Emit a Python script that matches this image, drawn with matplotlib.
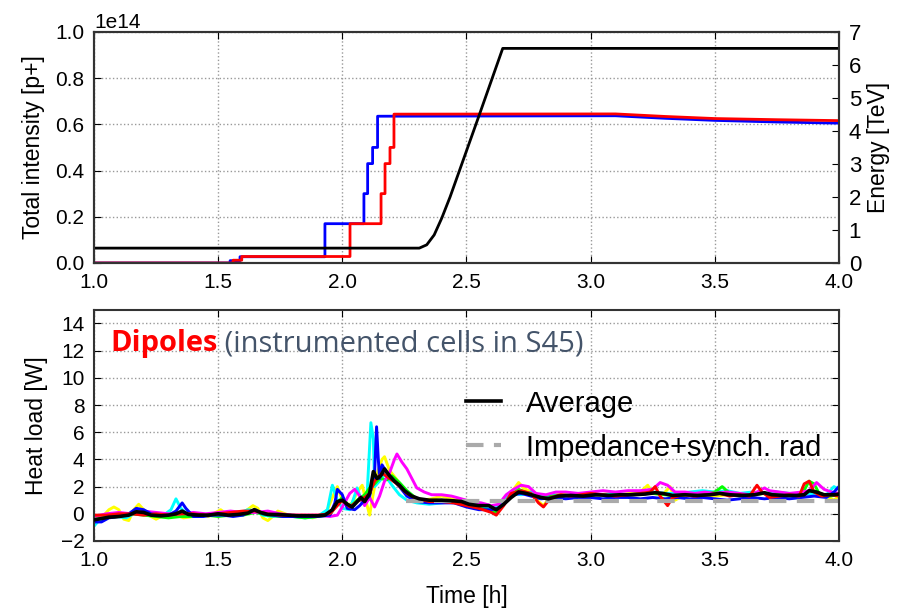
import numpy as np
import matplotlib
matplotlib.use("Agg")
import matplotlib.pyplot as plt

plt.rcParams["font.family"] = ["Liberation Sans", "DejaVu Sans"]

# ---- top panel: beam intensity (p+) and energy (TeV) ----
blue_t = [1.00, 1.548, 1.548, 1.588, 1.588, 1.930, 1.930, 2.087, 2.087, 2.102, 2.102,
          2.122, 2.122, 2.142, 2.142, 3.10, 3.30, 3.50, 3.75, 4.00]
blue_int = [0.0, 0.0, 0.010, 0.010, 0.027, 0.027, 0.170, 0.170, 0.300, 0.300, 0.430,
            0.430, 0.500, 0.500, 0.635, 0.637, 0.626, 0.617, 0.610, 0.605]
red_t = [1.00, 1.560, 1.560, 1.595, 1.595, 2.031, 2.031, 2.156, 2.156, 2.172, 2.172,
         2.192, 2.192, 2.208, 2.208, 3.10, 3.30, 3.50, 3.75, 4.00]
red_int = [0.0, 0.0, 0.012, 0.012, 0.028, 0.028, 0.170, 0.170, 0.300, 0.300, 0.430,
           0.430, 0.500, 0.500, 0.644, 0.645, 0.634, 0.625, 0.620, 0.616]
energy_t = [1.00, 2.31, 2.34, 2.37, 2.40, 2.434, 2.55, 2.646, 4.00]
energy = [0.45, 0.45, 0.55, 0.85, 1.35, 2.00, 4.45, 6.50, 6.50]

# ---- bottom panel: heat load per cell [W], (time, value) ----
yellow = [(1.00, -0.4), (1.03, -0.3), (1.06, 0.3), (1.08, 0.5), (1.10, 0.3), (1.12, -0.4),
          (1.14, -0.5), (1.16, 0.3), (1.18, 0.7), (1.20, 0.3), (1.22, -0.1), (1.25, -0.4),
          (1.27, -0.2), (1.30, 0.1), (1.33, -0.1), (1.36, -0.3), (1.40, -0.2), (1.43, 0.0),
          (1.46, -0.2), (1.49, 0.1), (1.51, 0.3), (1.54, -0.1), (1.58, 0.0), (1.61, 0.2),
          (1.64, 0.6), (1.66, 0.4), (1.68, -0.3), (1.70, -0.5), (1.72, -0.2), (1.74, 0.2),
          (1.77, 0.0), (1.80, -0.2), (1.84, -0.1), (1.88, -0.3), (1.92, -0.1), (1.94, 0.3),
          (1.96, 1.2), (1.98, 2.0), (2.00, 1.0), (2.02, 0.6), (2.04, 0.8), (2.06, 1.6),
          (2.08, 2.1), (2.10, 0.6), (2.11, -0.1), (2.12, 1.0), (2.14, 3.0), (2.16, 4.0),
          (2.17, 4.2), (2.19, 3.2), (2.22, 2.5), (2.25, 1.6), (2.28, 1.2), (2.32, 1.0),
          (2.36, 1.1), (2.40, 1.3), (2.44, 1.1), (2.48, 0.9), (2.52, 0.7), (2.56, 0.6),
          (2.60, 0.3), (2.63, 0.4), (2.66, 1.2), (2.69, 1.8), (2.71, 2.3), (2.73, 1.9),
          (2.76, 1.6), (2.79, 0.9), (2.81, 0.6), (2.84, 1.3), (2.88, 1.5), (2.92, 1.3),
          (2.96, 1.4), (3.00, 1.3), (3.04, 1.4), (3.08, 1.5), (3.12, 1.4), (3.16, 1.5),
          (3.20, 1.6), (3.23, 2.1), (3.25, 1.5), (3.29, 1.4), (3.32, 2.0), (3.34, 1.0),
          (3.38, 1.4), (3.42, 1.5), (3.46, 1.4), (3.50, 1.3), (3.55, 1.4), (3.60, 1.3),
          (3.65, 1.4), (3.70, 1.5), (3.75, 1.3), (3.80, 1.4), (3.85, 1.5), (3.90, 1.6),
          (3.94, 1.4), (3.98, 1.0), (4.00, 1.3)]
cyan = [(1.00, -0.9), (1.02, -0.5), (1.05, -0.3), (1.09, -0.2), (1.13, -0.3), (1.17, 0.1),
        (1.20, 0.2), (1.24, 0.0), (1.28, -0.1), (1.31, 0.3), (1.33, 1.1), (1.35, 0.4),
        (1.38, -0.1), (1.42, -0.2), (1.46, -0.1), (1.50, 0.0), (1.55, -0.1), (1.59, 0.1),
        (1.62, 0.3), (1.65, 0.2), (1.68, -0.1), (1.72, -0.2), (1.76, -0.1), (1.80, -0.2),
        (1.85, -0.3), (1.90, -0.2), (1.94, 0.3), (1.96, 2.1), (1.98, 1.0), (2.00, 0.4),
        (2.03, 0.3), (2.06, 1.9), (2.08, 0.8), (2.10, 1.5), (2.115, 6.7), (2.125, 5.5),
        (2.13, 2.0), (2.15, 2.4), (2.17, 2.9), (2.20, 2.1), (2.23, 1.4), (2.26, 1.0),
        (2.30, 0.8), (2.35, 0.7), (2.40, 0.8), (2.45, 0.9), (2.50, 0.8), (2.55, 0.6),
        (2.60, 0.4), (2.63, 0.5), (2.66, 1.3), (2.69, 1.5), (2.72, 1.4), (2.76, 1.6),
        (2.80, 1.3), (2.85, 1.4), (2.90, 1.3), (2.95, 1.4), (3.00, 1.5), (3.05, 1.4),
        (3.10, 1.5), (3.15, 1.4), (3.20, 1.5), (3.25, 1.6), (3.30, 1.5), (3.35, 1.5),
        (3.40, 1.6), (3.45, 1.7), (3.50, 1.6), (3.55, 1.7), (3.60, 1.5), (3.65, 1.6),
        (3.70, 1.5), (3.75, 1.6), (3.80, 1.5), (3.85, 1.4), (3.90, 1.5), (3.95, 1.4),
        (3.98, 2.0), (4.00, 1.8)]
green = [(1.00, -0.4), (1.05, -0.3), (1.10, -0.2), (1.15, 0.0), (1.20, -0.1), (1.25, -0.2),
         (1.30, -0.3), (1.35, -0.2), (1.40, -0.2), (1.45, -0.1), (1.50, -0.2), (1.55, -0.1),
         (1.60, -0.1), (1.65, 0.1), (1.70, -0.1), (1.75, -0.2), (1.80, -0.2), (1.85, -0.3),
         (1.90, -0.2), (1.95, -0.1), (1.98, 0.8), (2.00, 1.2), (2.03, 0.5), (2.06, 1.0),
         (2.09, 1.4), (2.11, 1.9), (2.13, 2.2), (2.15, 2.6), (2.18, 2.5), (2.20, 2.8),
         (2.23, 2.3), (2.26, 1.7), (2.30, 1.1), (2.35, 0.9), (2.40, 1.0), (2.45, 0.9),
         (2.50, 0.6), (2.55, 0.4), (2.60, 0.2), (2.62, 0.1), (2.65, 0.7), (2.68, 1.4),
         (2.71, 1.8), (2.75, 1.5), (2.80, 1.2), (2.85, 1.3), (2.90, 1.4), (2.95, 1.3),
         (3.00, 1.4), (3.05, 1.4), (3.10, 1.3), (3.15, 1.4), (3.20, 1.5), (3.25, 1.5),
         (3.30, 1.4), (3.35, 1.3), (3.40, 1.4), (3.45, 1.4), (3.50, 1.6), (3.53, 2.0),
         (3.56, 1.5), (3.60, 1.3), (3.65, 1.4), (3.70, 1.5), (3.75, 1.4), (3.80, 1.3),
         (3.85, 1.4), (3.88, 2.4), (3.90, 2.2), (3.92, 1.5), (3.96, 1.3), (4.00, 1.4)]
magenta = [(1.00, -0.2), (1.05, 0.0), (1.10, 0.1), (1.15, 0.0), (1.20, 0.2), (1.25, 0.1),
           (1.30, 0.0), (1.35, 0.0), (1.40, 0.1), (1.45, 0.0), (1.50, 0.1), (1.55, 0.2),
           (1.60, 0.1), (1.65, 0.1), (1.70, 0.2), (1.75, 0.0), (1.80, -0.1), (1.85, -0.1),
           (1.90, -0.1), (1.95, -0.2), (1.98, -0.1), (2.00, 0.5), (2.03, 1.5), (2.05, 1.8),
           (2.07, 1.3), (2.09, 0.6), (2.11, 1.2), (2.13, 0.5), (2.15, 1.3), (2.17, 2.4),
           (2.19, 3.0), (2.21, 4.0), (2.22, 4.4), (2.24, 3.8), (2.26, 3.3), (2.28, 2.6),
           (2.30, 1.9), (2.33, 1.6), (2.36, 1.4), (2.40, 1.4), (2.44, 1.3), (2.48, 1.1),
           (2.52, 0.9), (2.56, 0.8), (2.60, 0.6), (2.63, 0.7), (2.66, 1.4), (2.69, 1.8),
           (2.72, 2.1), (2.75, 2.0), (2.78, 1.5), (2.82, 1.4), (2.86, 1.6), (2.90, 1.6),
           (2.95, 1.5), (3.00, 1.6), (3.05, 1.7), (3.10, 1.6), (3.15, 1.7), (3.20, 1.7),
           (3.25, 1.8), (3.28, 2.3), (3.31, 2.1), (3.34, 1.6), (3.38, 1.6), (3.42, 1.5),
           (3.46, 1.6), (3.50, 1.5), (3.55, 1.6), (3.60, 1.5), (3.64, 1.4), (3.67, 1.6),
           (3.70, 1.9), (3.72, 1.7), (3.76, 1.6), (3.80, 1.5), (3.85, 1.6), (3.88, 1.7),
           (3.91, 2.3), (3.94, 1.8), (3.97, 1.6), (4.00, 1.5)]
blue = [(1.00, -0.6), (1.03, -0.6), (1.06, -0.3), (1.10, -0.2), (1.14, 0.0), (1.17, 0.4),
        (1.20, 0.3), (1.23, 0.0), (1.27, -0.1), (1.30, -0.1), (1.33, 0.2), (1.355, 0.8),
        (1.37, 0.4), (1.40, -0.2), (1.44, -0.2), (1.48, -0.1), (1.52, -0.1), (1.56, -0.2),
        (1.60, -0.1), (1.63, 0.2), (1.65, 0.3), (1.68, 0.0), (1.72, -0.1), (1.76, -0.2),
        (1.80, -0.2), (1.85, -0.2), (1.90, -0.2), (1.95, -0.1), (1.97, 0.8), (1.98, 1.8),
        (2.00, 1.4), (2.02, 0.4), (2.05, 0.3), (2.07, 0.6), (2.09, 1.0), (2.11, 1.3),
        (2.13, 3.0), (2.138, 6.4), (2.145, 4.0), (2.15, 2.6), (2.16, 3.6), (2.18, 3.0),
        (2.20, 2.6), (2.23, 2.0), (2.26, 1.3), (2.30, 0.9), (2.35, 0.8), (2.40, 0.8),
        (2.45, 0.8), (2.50, 0.5), (2.55, 0.3), (2.60, 0.3), (2.63, 0.4), (2.66, 0.9),
        (2.69, 1.4), (2.72, 1.5), (2.76, 1.3), (2.80, 1.1), (2.85, 1.2), (2.90, 1.1),
        (2.95, 1.2), (3.00, 1.2), (3.05, 1.1), (3.10, 1.2), (3.15, 1.2), (3.20, 1.1),
        (3.25, 1.2), (3.30, 1.1), (3.35, 1.2), (3.40, 1.1), (3.45, 1.2), (3.50, 1.1),
        (3.55, 1.0), (3.60, 1.1), (3.65, 1.2), (3.70, 1.1), (3.75, 1.2), (3.80, 1.1),
        (3.85, 1.2), (3.90, 1.3), (3.95, 1.2), (3.98, 1.6), (4.00, 2.0)]
red = [(1.00, -0.1), (1.05, -0.1), (1.10, 0.0), (1.15, 0.0), (1.20, -0.1), (1.25, 0.0),
       (1.30, -0.1), (1.35, 0.0), (1.40, 0.0), (1.45, -0.1), (1.50, 0.0), (1.55, 0.1),
       (1.60, 0.2), (1.65, 0.2), (1.70, 0.0), (1.75, -0.1), (1.80, -0.1), (1.85, -0.1),
       (1.90, -0.1), (1.95, 0.0), (1.98, 0.6), (2.00, 1.0), (2.03, 0.5), (2.06, 0.9),
       (2.09, 1.2), (2.11, 1.5), (2.13, 2.4), (2.16, 3.0), (2.19, 2.6), (2.22, 2.2),
       (2.26, 1.5), (2.30, 1.1), (2.35, 0.9), (2.40, 0.9), (2.45, 0.8), (2.50, 0.6),
       (2.55, 0.4), (2.60, 0.1), (2.62, -0.1), (2.65, 0.6), (2.68, 1.5), (2.72, 1.7),
       (2.76, 1.5), (2.79, 0.8), (2.81, 0.5), (2.84, 1.2), (2.88, 1.4), (2.92, 1.3),
       (2.96, 1.4), (3.00, 1.5), (3.05, 1.4), (3.10, 1.3), (3.15, 1.4), (3.20, 1.5),
       (3.24, 1.6), (3.26, 2.0), (3.28, 1.3), (3.31, 0.6), (3.33, 1.2), (3.37, 1.4),
       (3.42, 1.3), (3.47, 1.4), (3.52, 1.5), (3.56, 1.3), (3.60, 1.4), (3.64, 1.3),
       (3.67, 2.1), (3.69, 1.6), (3.72, 1.2), (3.76, 1.3), (3.80, 1.4), (3.84, 1.3),
       (3.86, 2.2), (3.88, 2.4), (3.90, 1.6), (3.93, 1.3), (3.97, 1.4), (4.00, 1.3)]
average = [(1.00, -0.45), (1.03, -0.35), (1.06, -0.25), (1.10, -0.2), (1.14, -0.1),
           (1.17, 0.15), (1.20, 0.1), (1.23, -0.1), (1.27, -0.15), (1.30, -0.1), (1.33, 0.0),
           (1.355, 0.2), (1.38, -0.05), (1.42, -0.1), (1.46, -0.1), (1.50, 0.0), (1.54, -0.1),
           (1.58, -0.05), (1.62, 0.05), (1.645, 0.3), (1.67, 0.1), (1.70, -0.05), (1.74, -0.05),
           (1.78, -0.1), (1.82, -0.15), (1.86, -0.15), (1.90, -0.15), (1.93, -0.1), (1.96, 0.3),
           (1.98, 0.9), (2.00, 1.0), (2.02, 0.7), (2.04, 0.5), (2.06, 0.9), (2.075, 1.2),
           (2.09, 0.9), (2.11, 1.5), (2.125, 3.1), (2.14, 2.6), (2.155, 2.8), (2.17, 3.3),
           (2.19, 2.8), (2.21, 2.4), (2.23, 2.1), (2.25, 1.7), (2.28, 1.3), (2.31, 1.1),
           (2.35, 1.0), (2.40, 1.0), (2.45, 0.95), (2.48, 0.9), (2.51, 0.7), (2.55, 0.6),
           (2.59, 0.6), (2.62, 0.3), (2.65, 0.7), (2.68, 1.2), (2.71, 1.6), (2.74, 1.5),
           (2.77, 1.35), (2.80, 1.2), (2.83, 1.1), (2.87, 1.3), (2.92, 1.35), (2.97, 1.3),
           (3.02, 1.4), (3.07, 1.35), (3.12, 1.4), (3.17, 1.4), (3.22, 1.45), (3.26, 1.55),
           (3.29, 1.5), (3.33, 1.35), (3.38, 1.4), (3.43, 1.35), (3.48, 1.4), (3.52, 1.5),
           (3.56, 1.4), (3.61, 1.35), (3.66, 1.4), (3.70, 1.55), (3.73, 1.4), (3.78, 1.35),
           (3.83, 1.35), (3.86, 1.4), (3.88, 1.7), (3.91, 1.6), (3.94, 1.4), (3.98, 1.4),
           (4.00, 1.45)]
imp_t = [2.255, 4.00]
imp_sr = [0.92, 0.92]

cells = [("yellow", yellow), ("cyan", cyan), ("lime", green), ("magenta", magenta),
         ("blue", blue), ("red", red)]

spine_col = "#333333"
grid_kw = dict(linestyle=":", color="#999999", linewidth=1.0)

fig = plt.figure(figsize=(9.04, 6.13), dpi=100)
ax1 = fig.add_axes([0.104, 0.571, 0.824, 0.377])
ax3 = fig.add_axes([0.104, 0.1175, 0.824, 0.377])

# top panel
ax1.plot(blue_t, np.array(blue_int) * 1e14, color="blue", lw=2)
ax1.plot(red_t, np.array(red_int) * 1e14, color="red", lw=2)
ax1.set_xlim(1.0, 4.0)
ax1.set_ylim(0, 1e14)
ax1.set_xticks(np.arange(1.0, 4.01, 0.5))
ax1.set_ylabel("Total intensity [p+]", fontsize=16.5)
ax1.yaxis.set_label_coords(-0.066, 0.5)
ax1.grid(True, **grid_kw)
ax1.tick_params(direction="in", top=True, right=False, length=5, labelsize=15, pad=7)
ax1.yaxis.get_offset_text().set_fontsize(15)

ax2 = ax1.twinx()
ax2.plot(energy_t, energy, color="black", lw=2)
ax2.set_ylim(0, 7)
ax2.set_yticks(range(0, 8))
ax2.set_ylabel("Energy [TeV]", fontsize=16.5)
ax2.yaxis.set_label_coords(1.038, 0.5)
ax2.tick_params(direction="in", length=5, labelsize=16, pad=7)

# bottom panel
for col, pts in cells:
    t, v = zip(*pts)
    ax3.plot(t, v, color=col, lw=2.1)
ax3.plot(imp_t, imp_sr, color="#aaaaaa", lw=3, dashes=(4.2, 2.5),
         label="Impedance+synch. rad", zorder=2.5)
t, v = zip(*average)
ax3.plot(t, v, color="black", lw=2.6, label="Average", zorder=3)
ax3.set_xlim(1.0, 4.0)
ax3.set_ylim(-2, 15)
ax3.set_xticks(np.arange(1.0, 4.01, 0.5))
ax3.set_yticks(range(-2, 15, 2))
ax3.grid(True, **grid_kw)
ax3.tick_params(direction="in", top=True, right=True, length=5, labelsize=15, pad=7)
ax3.set_ylabel("Heat load [W]", fontsize=16.5)
ax3.yaxis.set_label_coords(-0.062, 0.5)
ax3.set_xlabel("Time [h]", fontsize=16.5)
ax3.xaxis.set_label_coords(0.5, -0.19)

h, l = ax3.get_legend_handles_labels()
ax3.legend(h[::-1], l[::-1], loc="upper left", bbox_to_anchor=(0.499, 0.655),
           frameon=False, fontsize=21, handlelength=1.2, handletextpad=0.85,
           labelspacing=0.55, borderpad=0, borderaxespad=0)

t1 = ax3.text(0.0215, 0.82, "Dipoles", transform=ax3.transAxes, color="red",
              fontsize=21, fontweight="bold", family=["Open Sans", "DejaVu Sans"],
              va="baseline")
ax3.annotate(" (instrumented cells in S45)", xy=(1, 0), xycoords=t1, va="bottom",
             color="#44546A", fontsize=21, family=["Open Sans", "DejaVu Sans"])

for ax in (ax1, ax2, ax3):
    for s in ax.spines.values():
        s.set_color(spine_col)
        s.set_linewidth(1.5)

fig.savefig("out.png", dpi=100)
